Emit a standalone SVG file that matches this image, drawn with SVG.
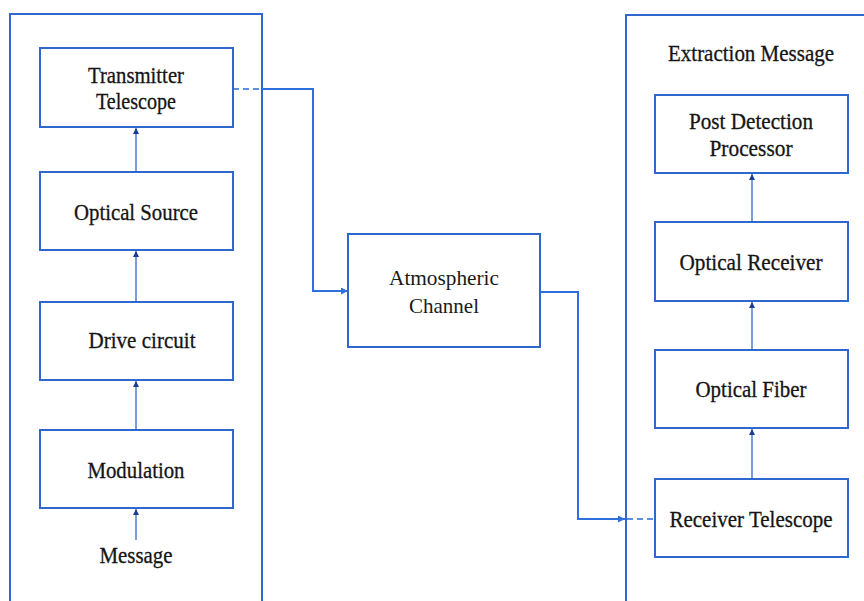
<svg xmlns="http://www.w3.org/2000/svg" width="864" height="601" viewBox="0 0 864 601">
<style>
.box{fill:#ffffff;stroke:#2f67cf;stroke-width:2}
.cont{fill:none;stroke:#2f67cf;stroke-width:2}
.lbl{font-family:"Liberation Serif","Times New Roman",serif;font-size:23px;fill:#151515;text-anchor:middle;stroke:#151515;stroke-width:0.3}
.lbl2{font-family:"Liberation Serif","Times New Roman",serif;font-size:22px;fill:#1a1a1a;text-anchor:middle}
.up{fill:none;stroke:#4a7fd6;stroke-width:1.5;marker-end:url(#navy)}
.flow{fill:none;stroke:#2f6fe0;stroke-width:2;marker-end:url(#blue)}
.dash{fill:none;stroke:#5b8fe0;stroke-width:2;stroke-dasharray:6 4}
</style>
<defs>
<marker id="navy" viewBox="0 0 10 10" refX="10" refY="5" markerWidth="6" markerHeight="6" orient="auto" markerUnits="userSpaceOnUse">
<path d="M0 0 L10 5 L0 10 z" fill="#1c3c94"/>
</marker>
<marker id="blue" viewBox="0 0 10 10" refX="10" refY="5" markerWidth="7" markerHeight="7" orient="auto" markerUnits="userSpaceOnUse">
<path d="M0 0 L10 5 L0 10 z" fill="#2f6fe0"/>
</marker>
</defs>
<rect width="864" height="601" fill="#ffffff"/>
<g id="transmitter-side">
<path class="cont" d="M10 605 V14 H262 V605"/>
</g>
<g id="receiver-side">
<path class="cont" d="M866 15 H626 V605"/>
<text class="lbl" x="751" y="61" textLength="166" lengthAdjust="spacingAndGlyphs">Extraction Message</text>
</g>
<g id="connectors">
<path class="up" d="M136 171 V128"/>
<path class="up" d="M136 302 V251"/>
<path class="up" d="M136 430 V381"/>
<path class="up" d="M136 540 V509"/>
<path class="up" d="M752 222 V174"/>
<path class="up" d="M752 350 V302"/>
<path class="up" d="M752 479 V429"/>
<path class="dash" d="M233 89 H262"/>
<path class="flow" d="M262 89 H313 V291 H348"/>
<path class="flow" d="M540 292 H578 V519 H625"/>
<path class="dash" d="M627 519 H655"/>
</g>
<g id="transmitter-telescope">
<rect class="box" x="40" y="48" width="193" height="79"/>
<text class="lbl" x="136" y="83" textLength="96" lengthAdjust="spacingAndGlyphs">Transmitter</text>
<text class="lbl" x="136" y="109" textLength="80" lengthAdjust="spacingAndGlyphs">Telescope</text>
</g>
<g id="optical-source">
<rect class="box" x="40" y="172" width="193" height="78"/>
<text class="lbl" x="136" y="220" textLength="124" lengthAdjust="spacingAndGlyphs">Optical Source</text>
</g>
<g id="drive-circuit">
<rect class="box" x="40" y="302" width="193" height="78"/>
<text class="lbl" x="142" y="348" textLength="107" lengthAdjust="spacingAndGlyphs">Drive circuit</text>
</g>
<g id="modulation">
<rect class="box" x="40" y="430" width="193" height="78"/>
<text class="lbl" x="136" y="478" textLength="97" lengthAdjust="spacingAndGlyphs">Modulation</text>
</g>
<g id="message">
<text class="lbl" x="136" y="563" textLength="73" lengthAdjust="spacingAndGlyphs">Message</text>
</g>
<g id="atmospheric-channel">
<rect class="box" x="348" y="234" width="192" height="113"/>
<text class="lbl2" x="444" y="285" textLength="110" lengthAdjust="spacingAndGlyphs">Atmospheric</text>
<text class="lbl2" x="444" y="313" textLength="70" lengthAdjust="spacingAndGlyphs">Channel</text>
</g>
<g id="post-detection-processor">
<rect class="box" x="655" y="95" width="193" height="78"/>
<text class="lbl" x="751" y="129" textLength="124" lengthAdjust="spacingAndGlyphs">Post Detection</text>
<text class="lbl" x="751" y="156" textLength="83" lengthAdjust="spacingAndGlyphs">Processor</text>
</g>
<g id="optical-receiver">
<rect class="box" x="655" y="222" width="193" height="79"/>
<text class="lbl" x="751" y="270" textLength="143" lengthAdjust="spacingAndGlyphs">Optical Receiver</text>
</g>
<g id="optical-fiber">
<rect class="box" x="655" y="350" width="193" height="78"/>
<text class="lbl" x="751" y="397" textLength="111" lengthAdjust="spacingAndGlyphs">Optical Fiber</text>
</g>
<g id="receiver-telescope">
<rect class="box" x="655" y="479" width="193" height="78"/>
<text class="lbl" x="751" y="527" textLength="163" lengthAdjust="spacingAndGlyphs">Receiver Telescope</text>
</g>
</svg>
